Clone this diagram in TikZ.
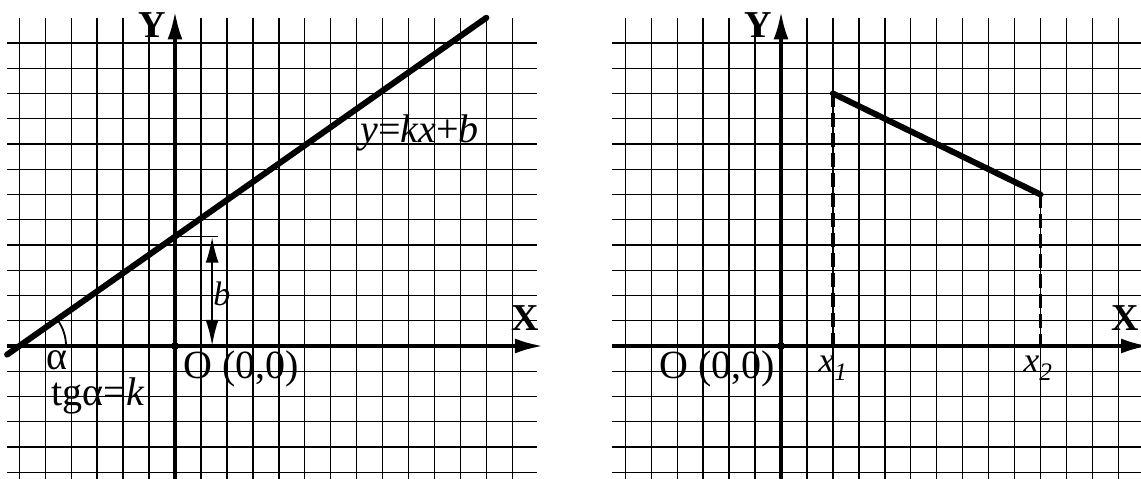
\documentclass[tikz,border=0pt]{standalone}
\usepackage{fontspec}
\setmainfont{Liberation Serif}
\usetikzlibrary{arrows.meta,calc}
\newcommand{\lblsize}{\fontsize{40}{44}\selectfont}
\newcommand{\axsize}{\fontsize{38}{42}\selectfont\bfseries}

\begin{document}
\begin{tikzpicture}[x=25.95pt,y=25.25pt,
    gridline/.style={line width=1.4pt},
    axis/.style={line width=3.6pt,-{Latex[length=28pt,width=15pt]}},
    graph/.style={line width=6pt,line cap=round},
    proj/.style={line width=3.4pt,dash pattern=on 14pt off 6pt},
    lbl/.style={inner sep=0pt,font=\lblsize},
    axlbl/.style={inner sep=0pt,font=\axsize}]
	\useasboundingbox (-6.744,-5.267) rectangle (37.225,13.703);
	% left panel: straight line
	\foreach \i in {-6,...,13} \draw[gridline] (\i,-5.3) -- (\i,13);
	\foreach \j in {-5,...,12} \draw[gridline] (-6.47,\j) -- (13.95,\j);
	\coordinate (OL) at (0,0);
	\coordinate (xstartL) at (-6.47,0);
	\coordinate (xendL) at (14.18,0);
	\coordinate (ystartL) at (0,-5.3);
	\coordinate (yendL) at (0,13.25);
	\draw[axis] (xstartL) -- (xendL);
	\draw[axis] (ystartL) -- (yendL);
	\fill (OL) circle (4pt);
	\node[axlbl] (xlabL) at (13.49,1.1) {X};
	\node[axlbl] (ylabL) at (-0.89,12.7) {Y};
	\node[lbl,anchor=base west] (originL) at (0.31,-1.27) {O (0,0)};
	% the line and its angle
	\coordinate (lineS) at (-6.47,-0.34);
	\coordinate (lineZ) at (-6,0);
	\coordinate (lineB) at (0,4.33);
	\coordinate (lineE) at (12,13);
	\draw[graph] (lineS) -- (lineE);
	\draw[line width=1.8pt] ($(lineZ)+(1.8,0)$) arc[start angle=0,end angle=35.8,radius=1.8];
	\node[lbl,anchor=base] (alpha) at (-4.55,-0.95) {α};
	\node[lbl,anchor=base] (tgk) at (-2.97,-2.34) {tgα=\textit{k}};
	\node[lbl,anchor=base west] (eq) at (7.13,8.04) {\textit{y}=\textit{kx}+\textit{b}};
	% intercept b
	\coordinate (btick) at (1.66,4.33);
	\coordinate (btop) at (1.43,4.33);
	\coordinate (bbot) at (1.43,0);
	\draw[line width=1.6pt] (lineB) -- (btick);
	\draw[line width=2.4pt,{Latex[length=26pt,width=13pt]}-{Latex[length=26pt,width=13pt]}] (btop) -- (bbot);
	\node[font=\fontsize{34}{38}\selectfont,inner sep=0pt,anchor=base] (blab) at (1.81,1.62) {\textit{b}};
	% right panel: segment
	\begin{scope}[shift={(23.353,0)}]
		\foreach \i in {-6,...,13} \draw[gridline] (\i,-5.3) -- (\i,13);
		\foreach \j in {-5,...,12} \draw[gridline] (-6.5,\j) -- (14.5,\j);
		\coordinate (OR) at (0,0);
		\coordinate (xstartR) at (-6.5,0);
		\coordinate (xendR) at (14.18,0);
		\coordinate (ystartR) at (0,-5.3);
		\coordinate (yendR) at (0,13.25);
		\draw[axis] (xstartR) -- (xendR);
		\draw[axis] (ystartR) -- (yendR);
		\fill (OR) circle (4pt);
		\node[axlbl] (xlabR) at (13.28,1.1) {X};
		\node[axlbl] (ylabR) at (-0.89,12.7) {Y};
		\node[lbl,anchor=base east] (originR) at (-0.23,-1.27) {O (0,0)};
		\coordinate (segA) at (2,10);
		\coordinate (segB) at (10,6);
		\coordinate (footA) at (2,0);
		\coordinate (footB) at (10,0);
		\draw[proj] (segA) -- (footA);
		\draw[proj] (segB) -- (footB);
		\draw[graph] (segA) -- (segB);
		\node[font=\fontsize{36}{40}\selectfont,inner sep=0pt,anchor=base west] (xone) at (1.43,-1.03) {\textit{x}\textsubscript{\textit{1}}};
		\node[font=\fontsize{36}{40}\selectfont,inner sep=0pt,anchor=base west] (xtwo) at (9.33,-1.03) {\textit{x}\textsubscript{\textit{2}}};
	\end{scope}
\end{tikzpicture}
\end{document}
